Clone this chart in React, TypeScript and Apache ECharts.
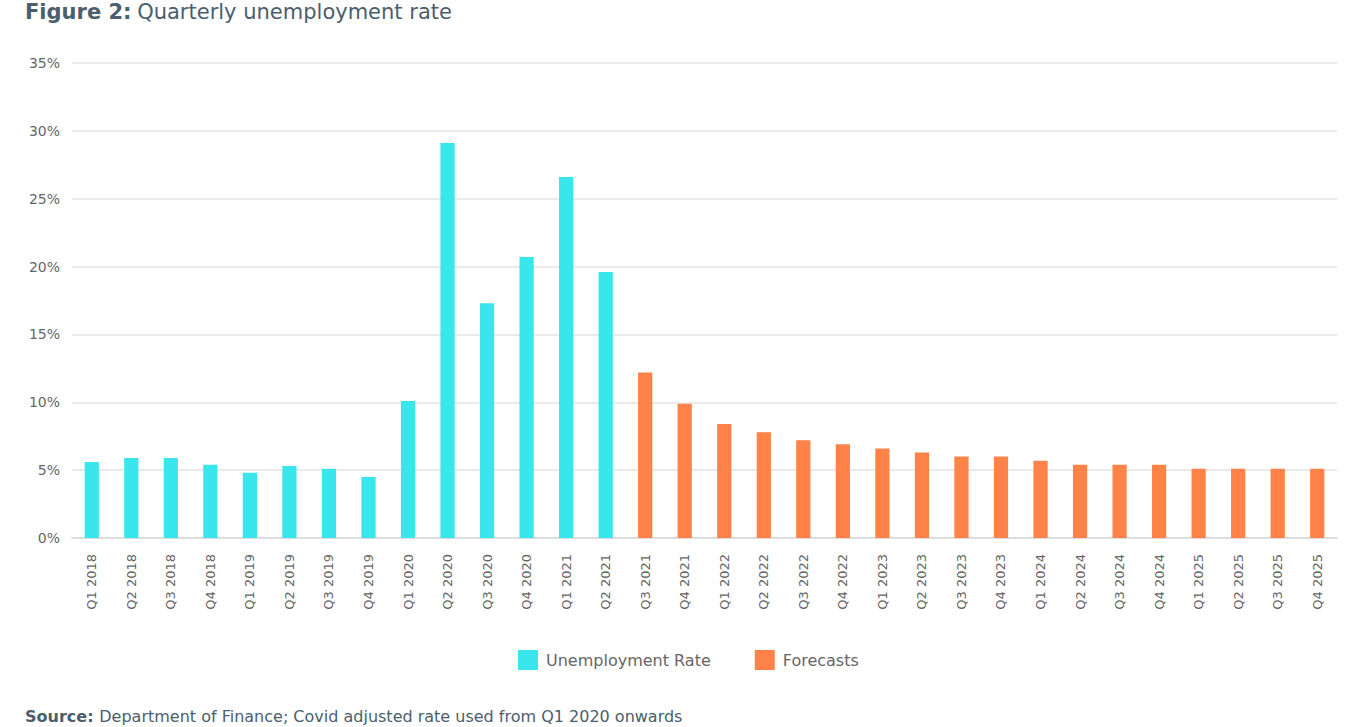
import React, { useEffect, useRef } from "react";
import * as echarts from "echarts";

const categories = [
  "Q1 2018","Q2 2018","Q3 2018","Q4 2018",
  "Q1 2019","Q2 2019","Q3 2019","Q4 2019",
  "Q1 2020","Q2 2020","Q3 2020","Q4 2020",
  "Q1 2021","Q2 2021","Q3 2021","Q4 2021",
  "Q1 2022","Q2 2022","Q3 2022","Q4 2022",
  "Q1 2023","Q2 2023","Q3 2023","Q4 2023",
  "Q1 2024","Q2 2024","Q3 2024","Q4 2024",
  "Q1 2025","Q2 2025","Q3 2025","Q4 2025",
];

const unemploymentRate: (number | null)[] = [
  5.6, 5.9, 5.9, 5.4, 4.8, 5.3, 5.1, 4.5,
  10.1, 29.1, 17.3, 20.7, 26.6, 19.6,
  null, null, null, null, null, null, null, null, null, null,
  null, null, null, null, null, null, null, null,
];

const forecasts: (number | null)[] = [
  null, null, null, null, null, null, null, null,
  null, null, null, null, null, null,
  12.2, 9.9, 8.4, 7.8, 7.2, 6.9, 6.6, 6.3, 6.0, 6.0,
  5.7, 5.4, 5.4, 5.4, 5.1, 5.1, 5.1, 5.1,
];

const yTicks = [0, 5, 10, 15, 20, 25, 30, 35];

const FONT = "'DejaVu Sans', sans-serif";

export default function App() {
  const ref = useRef<HTMLDivElement>(null);
  useEffect(() => {
    document.body.style.margin = "0";
    const chart = echarts.init(ref.current!, null, { renderer: "svg" });
    chart.setOption({
      animation: false,
      backgroundColor: "#ffffff",
      textStyle: { fontFamily: FONT },
      title: [
        {
          text: "{b|Figure 2:} {r|Quarterly unemployment rate}",
          left: 20,
          top: -4,
          textStyle: {
            fontWeight: "normal",
            rich: {
              b: { fontSize: 21, fontWeight: "bold", color: "#4b5e6d", fontFamily: FONT },
              r: { fontSize: 21, fontWeight: "normal", color: "#4b5e6d", fontFamily: FONT },
            },
          },
        },
        {
          text: "{b|Source:} {r|Department of Finance; Covid adjusted rate used from Q1 2020 onwards}",
          left: 20,
          top: 702,
          textStyle: {
            fontWeight: "normal",
            rich: {
              b: { fontSize: 16, fontWeight: "bold", color: "#4b5e6d", fontFamily: FONT },
              r: { fontSize: 16, fontWeight: "normal", color: "#4b5e6d", fontFamily: FONT },
            },
          },
        },
      ],
      legend: {
        top: 645,
        left: 513,
        itemWidth: 20,
        itemHeight: 20,
        itemGap: 44,
        icon: "rect",
        textStyle: { fontSize: 16, color: "#666666", fontFamily: FONT, padding: [0, 0, 0, 3] },
        data: ["Unemployment Rate", "Forecasts"],
      },
      grid: { left: 72, right: 14, top: 63, bottom: 189, containLabel: false },
      xAxis: {
        type: "category",
        data: categories,
        axisTick: { show: false },
        axisLine: { lineStyle: { color: "#dddddd", width: 2 } },
        axisLabel: {
          rotate: 90,
          interval: 0,
          fontSize: 13,
          color: "#666666",
          margin: 16,
          fontFamily: FONT,
        },
      },
      yAxis: {
        type: "value",
        min: 0,
        max: 35,
        interval: 5,
        axisLine: { show: false },
        axisTick: { show: false },
        splitLine: { lineStyle: { color: "#e3e3e3", width: 1.5 } },
        axisLabel: {
          fontSize: 14,
          color: "#666666",
          margin: 12,
          fontFamily: FONT,
          formatter: (v: number) => (yTicks.includes(v) ? v + "%" : ""),
        },
      },
      series: [
        {
          name: "Unemployment Rate",
          type: "bar",
          stack: "all",
          barWidth: "36%",
          itemStyle: { color: "#38E6EC" },
          data: unemploymentRate,
        },
        {
          name: "Forecasts",
          type: "bar",
          stack: "all",
          barWidth: "36%",
          itemStyle: { color: "#FF8249" },
          data: forecasts,
        },
      ],
    });
    return () => chart.dispose();
  }, []);
  return (
    <div
      ref={ref}
      style={{ position: "absolute", left: 0, top: 0, width: 1351, height: 727 }}
    />
  );
}
